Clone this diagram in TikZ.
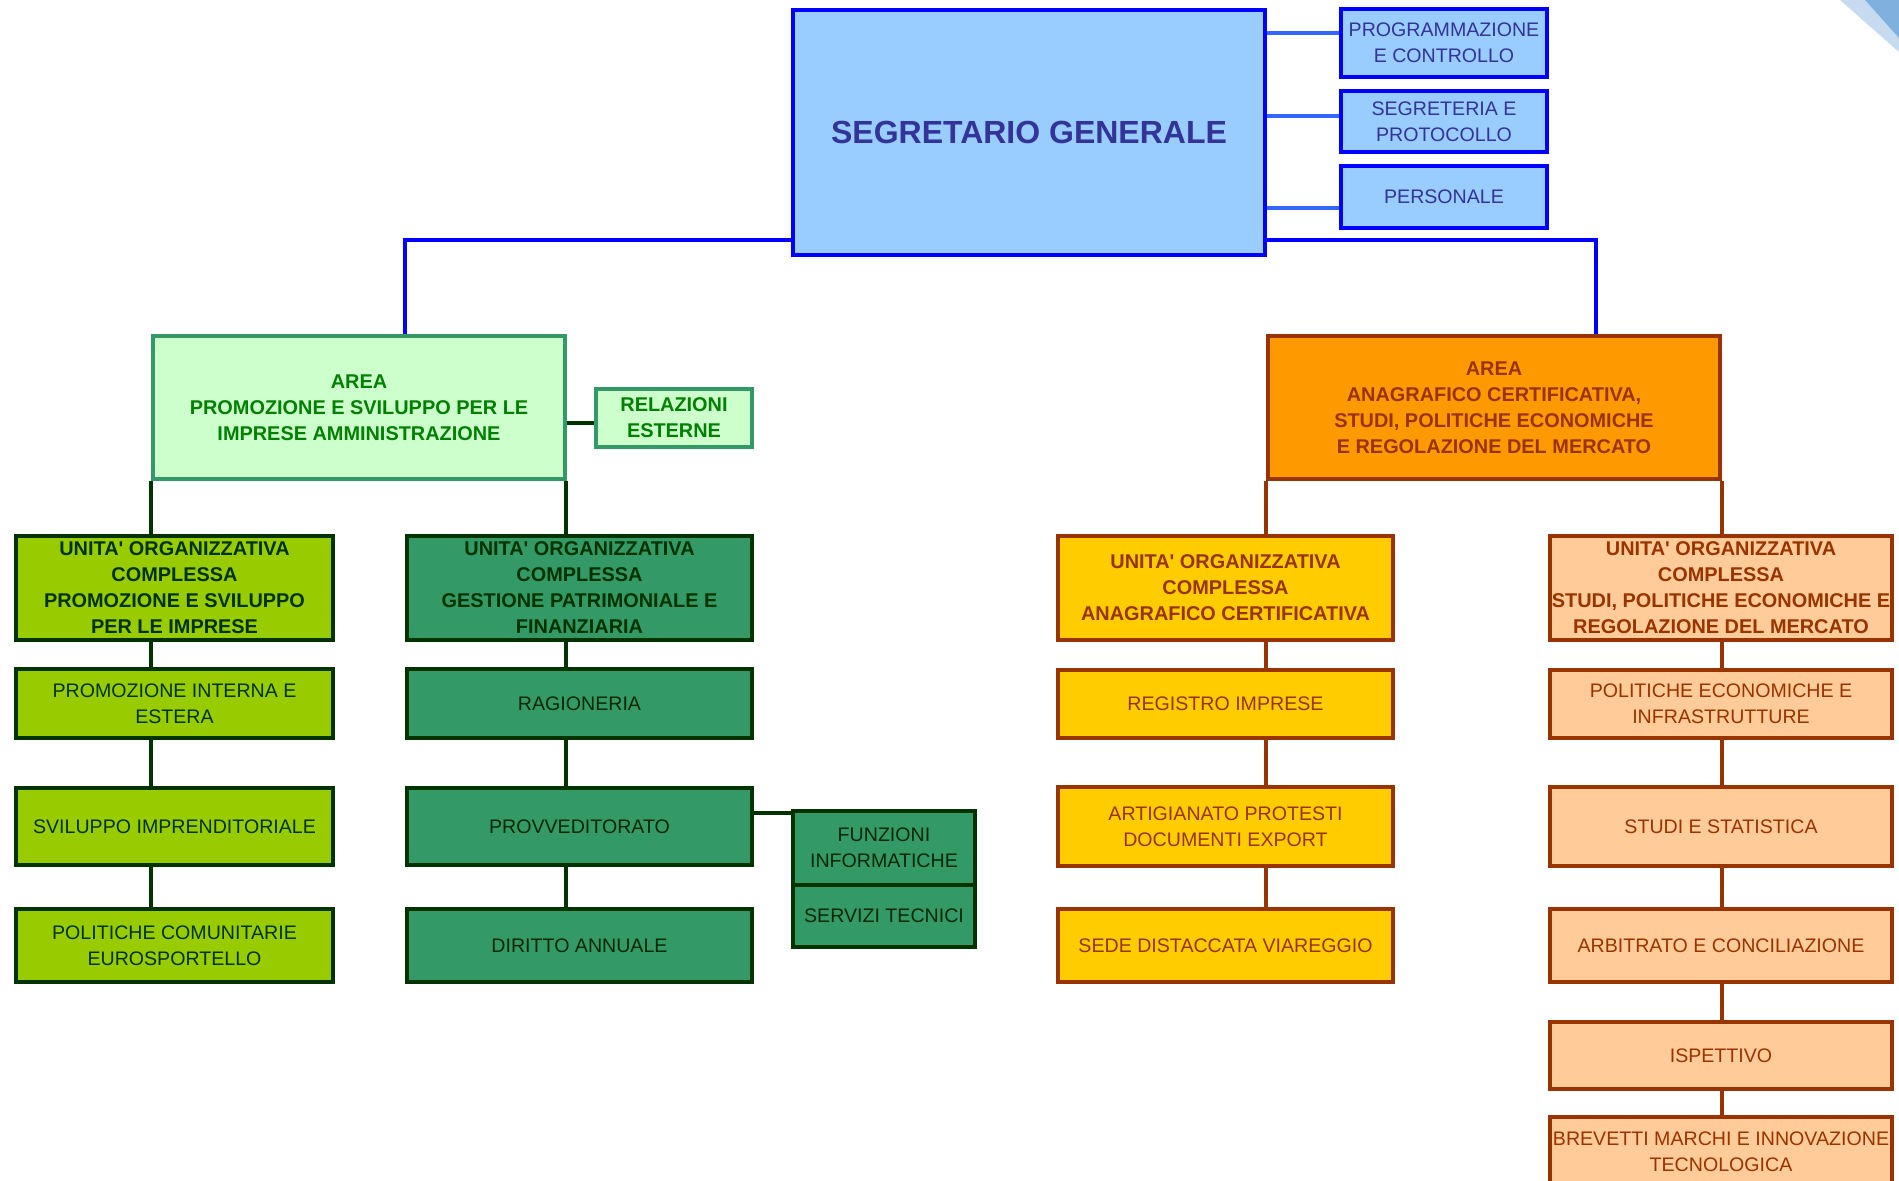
\documentclass[tikz,border=0pt]{standalone}
\usepackage{fontspec}
\setmainfont{Liberation Sans}[Ligatures=TeXOff]
\usetikzlibrary{backgrounds}
\definecolor{sgfill}{HTML}{99CCFF}
\definecolor{sgdraw}{HTML}{0000FF}
\definecolor{sgtext}{HTML}{333399}
\definecolor{sublink}{HTML}{3366FF}
\definecolor{agfill}{HTML}{CCFFCC}
\definecolor{agdraw}{HTML}{339966}
\definecolor{agtext}{HTML}{008000}
\definecolor{dkline}{HTML}{003300}
\definecolor{limefill}{HTML}{99CC00}
\definecolor{dgfill}{HTML}{339966}
\definecolor{dgtext}{HTML}{062806}
\definecolor{orfill}{HTML}{FF9900}
\definecolor{brown}{HTML}{993300}
\definecolor{goldfill}{HTML}{FFCC00}
\definecolor{peachfill}{HTML}{FFCC99}
\definecolor{cornerlight}{HTML}{C6DBEF}
\definecolor{cornerdark}{HTML}{7FB0DE}
\begin{document}
\begin{tikzpicture}[x=1pt,y=-1pt,
  box/.style={rectangle, draw, line width=3.5pt, align=center, inner sep=0pt,
    font=\fontsize{19.6}{26}\selectfont},
  boldbox/.style={box, font=\bfseries\fontsize{19.9}{26}\selectfont},
  sgbox/.style={box, fill=sgfill, draw=sgdraw, text=sgtext, line width=4pt,
    font=\bfseries\fontsize{32}{36}\selectfont},
  staff/.style={box, fill=sgfill, draw=sgdraw, text=sgtext, line width=4pt, minimum width=206pt},
  agbox/.style={boldbox, fill=agfill, draw=agdraw, text=agtext},
  limeu/.style={boldbox, fill=limefill, draw=dkline, text=dkline, minimum width=317pt},
  limes/.style={box, fill=limefill, draw=dkline, text=dkline, minimum width=317pt},
  dgu/.style={boldbox, fill=dgfill, draw=dkline, text=dkline, minimum width=345pt},
  dgs/.style={box, fill=dgfill, draw=dkline, text=dgtext, minimum width=345pt},
  orbox/.style={boldbox, fill=orfill, draw=brown, text=brown, line width=4pt},
  goldu/.style={boldbox, fill=goldfill, draw=brown, text=brown, line width=4pt, minimum width=335pt},
  golds/.style={box, fill=goldfill, draw=brown, text=brown, line width=4pt, minimum width=335pt},
  peachu/.style={boldbox, fill=peachfill, draw=brown, text=brown, line width=4pt, minimum width=342pt},
  peachs/.style={box, fill=peachfill, draw=brown, text=brown, line width=4pt, minimum width=342pt},
  blueline/.style={draw=sgdraw, line width=3.5pt},
  stafflink/.style={draw=sublink, line width=3.7pt},
  greenline/.style={draw=dkline, line width=3.8pt},
  brownline/.style={draw=brown, line width=4pt}]
\useasboundingbox (0,0) rectangle (1899,1181);

% corner decoration
\fill[cornerlight] (1840,0) -- (1899,0) -- (1899,52) -- cycle;
\fill[cornerdark] (1865,0) -- (1899,0) -- (1899,38) -- cycle;

% top
\node[sgbox, minimum width=472pt, minimum height=245pt] (SG) at (1029,132.5) {SEGRETARIO GENERALE};
\node[staff, minimum height=68pt] (PROG) at (1444,43) {PROGRAMMAZIONE\\E CONTROLLO};
\node[staff, minimum height=61pt] (SEGR) at (1444,121.5) {SEGRETERIA E\\PROTOCOLLO};
\node[staff, minimum height=62pt] (PERS) at (1444,197) {PERSONALE};

% left area
\node[agbox, minimum width=412pt, minimum height=143pt] (AG) at (359,407.5)
  {AREA\\PROMOZIONE E SVILUPPO PER LE\\IMPRESE AMMINISTRAZIONE};
\node[agbox, minimum width=156pt, minimum height=58pt] (REL) at (674,418) {RELAZIONI\\ESTERNE};

\node[limeu, minimum height=104pt] (L1) at (174.5,588)
  {UNITA' ORGANIZZATIVA\\COMPLESSA\\PROMOZIONE E SVILUPPO\\PER LE IMPRESE};
\node[limes, minimum height=69pt] (L2) at (174.5,703.5) {PROMOZIONE INTERNA E\\ESTERA};
\node[limes, minimum height=77pt] (L3) at (174.5,826.5) {SVILUPPO IMPRENDITORIALE};
\node[limes, minimum height=73pt] (L4) at (174.5,945.5) {POLITICHE COMUNITARIE\\EUROSPORTELLO};

\node[dgu, minimum height=104pt] (D1) at (579.5,588)
  {UNITA' ORGANIZZATIVA\\COMPLESSA\\GESTIONE PATRIMONIALE E\\FINANZIARIA};
\node[dgs, minimum height=69pt] (D2) at (579.5,703.5) {RAGIONERIA};
\node[dgs, minimum height=77pt] (D3) at (579.5,826.5) {PROVVEDITORATO};
\node[dgs, minimum height=73pt] (D4) at (579.5,945.5) {DIRITTO ANNUALE};

\node[dgs, minimum width=182pt, minimum height=74pt] (FU) at (884,848) {FUNZIONI\\INFORMATICHE};
\node[dgs, minimum width=182pt, minimum height=62pt] (SE) at (884,916) {SERVIZI TECNICI};

% right area
\node[orbox, minimum width=452pt, minimum height=143pt] (AO) at (1494,407.5)
  {AREA\\ANAGRAFICO CERTIFICATIVA,\\STUDI, POLITICHE ECONOMICHE\\E REGOLAZIONE DEL MERCATO};

\node[goldu, minimum height=104pt] (G1) at (1225.5,588)
  {UNITA' ORGANIZZATIVA\\COMPLESSA\\ANAGRAFICO CERTIFICATIVA};
\node[golds, minimum height=68pt] (G2) at (1225.5,704) {REGISTRO IMPRESE};
\node[golds, minimum height=79pt] (G3) at (1225.5,826.5) {ARTIGIANATO PROTESTI\\DOCUMENTI EXPORT};
\node[golds, minimum height=73pt] (G4) at (1225.5,945.5) {SEDE DISTACCATA VIAREGGIO};

\node[peachu, minimum height=104pt] (P1) at (1721,588)
  {UNITA' ORGANIZZATIVA\\COMPLESSA\\STUDI, POLITICHE ECONOMICHE E\\REGOLAZIONE DEL MERCATO};
\node[peachs, minimum height=68pt] (P2) at (1721,704) {POLITICHE ECONOMICHE E\\INFRASTRUTTURE};
\node[peachs, minimum height=79pt] (P3) at (1721,826.5) {STUDI E STATISTICA};
\node[peachs, minimum height=73pt] (P4) at (1721,945.5) {ARBITRATO E CONCILIAZIONE};
\node[peachs, minimum height=67pt] (P5) at (1721,1055.5) {ISPETTIVO};
\node[peachs, minimum height=70pt] (P6) at (1721,1152) {BREVETTI MARCHI E INNOVAZIONE\\TECNOLOGICA};

% helper coordinates
\coordinate (yL) at (0,240);
\coordinate (xL) at (405,0);
\coordinate (xR) at (1596,0);
\coordinate (y1) at (0,33);
\coordinate (y2) at (0,116);
\coordinate (y3) at (0,208);
\coordinate (yRel) at (0,423);
\coordinate (xa) at (151,0);
\coordinate (xb) at (566,0);
\coordinate (xc) at (1266,0);
\coordinate (xd) at (1722,0);
\coordinate (yF) at (0,813);

\begin{scope}[on background layer]
  \draw[blueline] (SG.west |- yL) -- (xL |- yL) -- (AG.north -| xL);
  \draw[blueline] (SG.east |- yL) -- (xR |- yL) -- (AO.north -| xR);
  \draw[stafflink] (SG.east |- y1) -- (PROG.west |- y1);
  \draw[stafflink] (SG.east |- y2) -- (SEGR.west |- y2);
  \draw[stafflink] (SG.east |- y3) -- (PERS.west |- y3);
  \draw[greenline] (AG.east |- yRel) -- (REL.west |- yRel);
  \foreach \a/\b in {AG/L1, L1/L2, L2/L3, L3/L4}
    \draw[greenline] (\a.south -| xa) -- (\b.north -| xa);
  \foreach \a/\b in {AG/D1, D1/D2, D2/D3, D3/D4}
    \draw[greenline] (\a.south -| xb) -- (\b.north -| xb);
  \draw[greenline] (D3.east |- yF) -- (FU.west |- yF);
  \foreach \a/\b in {AO/G1, G1/G2, G2/G3, G3/G4}
    \draw[brownline] (\a.south -| xc) -- (\b.north -| xc);
  \foreach \a/\b in {AO/P1, P1/P2, P2/P3, P3/P4, P4/P5, P5/P6}
    \draw[brownline] (\a.south -| xd) -- (\b.north -| xd);
\end{scope}
\end{tikzpicture}
\end{document}
